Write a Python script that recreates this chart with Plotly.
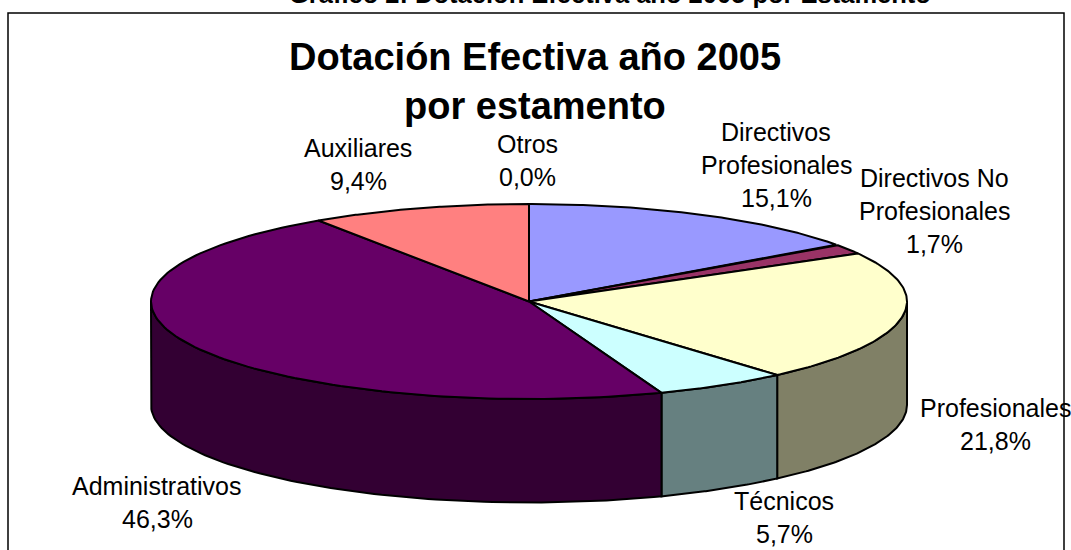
import numpy as np
import plotly.graph_objects as go

categories = ["Directivos Profesionales", "Directivos No Profesionales", "Profesionales",
              "Técnicos", "Administrativos", "Auxiliares", "Otros"]
values = [15.1, 1.7, 21.8, 5.7, 46.3, 9.4, 0.0]
top_colors = ["#9999FF", "#993366", "#FFFFCC", "#CCFFFF", "#660066", "#FF8080", "#FFFFFF"]
side_colors = ["#4C4C80", "#4C1933", "#808066", "#668080", "#330033", "#804040", "#808080"]

CX, CY, RX, RY, DEPTH = 529.0, 301.5, 378.0, 97.5, 103.5
OUT = "#000000"
fig = go.Figure()


def ex(t):
    return CX + RX * np.sin(t)


def ey(t):
    return CY - RY * np.cos(t)


edges = np.radians(np.cumsum([0.0] + values) * 3.6)

# side walls: only the front half of the rim is visible
for i, v in enumerate(values):
    a, b = max(edges[i], np.pi / 2), min(edges[i + 1], 3 * np.pi / 2)
    if b <= a:
        continue
    t = np.linspace(a, b, 90)
    xs = np.r_[ex(t), ex(t[::-1]), ex(t[0])]
    ys = np.r_[ey(t), ey(t[::-1]) + DEPTH, ey(t[0])]
    fig.add_trace(go.Scatter(x=xs, y=ys, mode="lines", fill="toself", fillcolor=side_colors[i],
                             line=dict(color=OUT, width=2), hoverinfo="skip", showlegend=False))

# top face
for i, v in enumerate(values):
    if v <= 0:
        continue
    t = np.linspace(edges[i], edges[i + 1], 120)
    xs = np.r_[CX, ex(t), CX]
    ys = np.r_[CY, ey(t), CY]
    fig.add_trace(go.Scatter(x=xs, y=ys, mode="lines", fill="toself", fillcolor=top_colors[i],
                             line=dict(color=OUT, width=2), hoverinfo="skip", showlegend=False,
                             name=categories[i]))

FONT = "Liberation Sans, Arial, sans-serif"


def txt(x, y, s, size=25, bold=False, yshift=0):
    fig.add_annotation(x=x, y=y, text=f"<b>{s}</b>" if bold else s, showarrow=False,
                       xanchor="center", yanchor="middle", yshift=yshift,
                       font=dict(family=FONT, size=size, color="#000000"))


txt(610, 0, "Gráfico 2: Dotación Efectiva año 2005 por Estamento", 25.5, True, yshift=6.4)
txt(535, 57, "Dotación Efectiva año 2005", 38, True)
txt(535, 106, "por estamento", 38, True)

pct = [f"{v:.1f}%".replace(".", ",") for v in values]
label_lines = [
    (776, 132, ["Directivos", "Profesionales", pct[0]]),
    (934, 178, ["Directivos No", "Profesionales", pct[1]]),
    (995, 408, ["Profesionales", pct[2]]),
    (784, 501, ["Técnicos", pct[3]]),
    (157, 486, ["Administrativos", pct[4]]),
    (358, 148, ["Auxiliares", pct[5]]),
    (527, 144, ["Otros", pct[6]]),
]
for x, y, lines in label_lines:
    for k, s in enumerate(lines):
        txt(x, y + k * 33, s)

fig.add_shape(type="rect", xref="x", yref="y", x0=8, y0=13, x1=1064, y1=580,
              line=dict(color="#000000", width=1.5), layer="below")

fig.update_layout(
    width=1071, height=550, margin=dict(l=0, r=0, t=0, b=0),
    paper_bgcolor="#FFFFFF", plot_bgcolor="#FFFFFF", showlegend=False,
    xaxis=dict(range=[0, 1071], visible=False, fixedrange=True),
    yaxis=dict(range=[550, 0], visible=False, fixedrange=True),
)
fig.write_html("out.html", config={"displayModeBar": False},
               post_script="document.body.style.margin='0';document.body.style.overflow='hidden';")
